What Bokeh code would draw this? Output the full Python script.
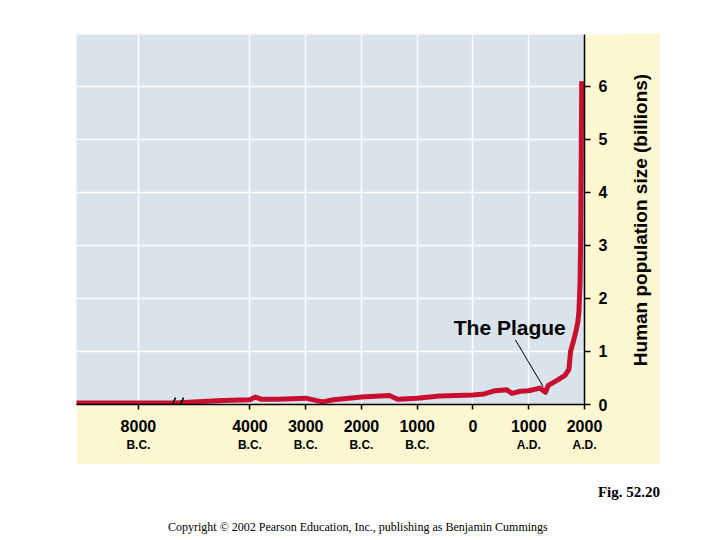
import math
from bokeh.plotting import figure
from bokeh.models import FixedTicker, LinearAxis, Range1d, Div, Spacer, Arrow
from bokeh.layouts import column, row
from bokeh.embed import file_html
from bokeh.resources import INLINE
from bokeh.core.properties import value

# ---- data ----
years = [-10300, -8000, -6700, -5000, -4000, -3900, -3800, -3500, -3000, -2700,
         -2500, -2000, -1500, -1350, -1000, -600, 0, 200, 400, 600,
         700, 850, 1000, 1200, 1300, 1350, 1500, 1650, 1720, 1750,
         1790, 1850, 1880, 1900, 1920, 1930, 1940, 1950]
population = [0.03, 0.03, 0.03, 0.075, 0.09, 0.14, 0.10, 0.10, 0.12, 0.05,
              0.09, 0.14, 0.17, 0.10, 0.12, 0.16, 0.18, 0.20, 0.26, 0.28,
              0.21, 0.25, 0.26, 0.31, 0.23, 0.36, 0.45, 0.55, 0.66, 1.0,
              1.15, 1.4, 1.55, 1.75, 2.3, 3.0, 4.5, 6.1]

tick_years = [-8000, -4000, -3000, -2000, -1000, 0, 1000, 2000]
tick_numbers = ["8000", "4000", "3000", "2000", "1000", "0", "1000", "2000"]
tick_eras = ["B.C.", "B.C.", "B.C.", "B.C.", "B.C.", "", "A.D.", "A.D."]
y_ticks = [0, 1, 2, 3, 4, 5, 6]
y_label = "Human population size (billions)"
plague_label = "The Plague"
plague_label_year, plague_label_value = 660, 1.45
plague_pointer = [(760, 1.22), (1258, 0.34)]
break_year = -6650
fig_caption = "Fig. 52.20"
copyright_text = "Copyright © 2002 Pearson Education, Inc., publishing as Benjamin Cummings"


def pos(y):
    # broken axis: years before 4000 B.C. are compressed
    return y if y >= -4000 else -4000 + (y + 4000) * 0.5


xs = [pos(y) for y in years]
tick_pos = [int(pos(y)) for y in tick_years]

FONT = "Liberation Sans"
CREAM = "#fdf7d2"

p = figure(width=544, height=430, x_range=Range1d(-7110, 2000), y_range=Range1d(0, 6.98),
           output_backend="svg", toolbar_location=None,
           x_axis_location="below", y_axis_location="right",
           min_border_left=0, min_border_top=0, min_border_right=36, min_border_bottom=60)
p.background_fill_color = "#d8e3eb"
p.border_fill_color = CREAM
p.outline_line_color = None

# grids
p.xgrid.ticker = FixedTicker(ticks=tick_pos)
p.ygrid.ticker = FixedTicker(ticks=y_ticks)
for g in (p.xgrid, p.ygrid):
    g.grid_line_color = "white"
    g.grid_line_width = 1.5

# bottom axis: numbers
xa = p.xaxis[0]
xa.ticker = FixedTicker(ticks=tick_pos)
xa.major_label_overrides = {tp: lab for tp, lab in zip(tick_pos, tick_numbers)}
xa.axis_line_color = "black"
xa.axis_line_width = 1.5
xa.major_tick_line_color = "black"
xa.major_tick_line_width = 1.5
xa.major_tick_out = 5
xa.major_tick_in = 0
xa.minor_tick_line_color = None
xa.major_label_standoff = 10
xa.major_label_text_font = FONT
xa.major_label_text_font_style = "bold"
xa.major_label_text_font_size = "16px"
xa.major_label_text_color = "black"

# second row of bottom labels: eras
xa2 = LinearAxis(ticker=FixedTicker(ticks=tick_pos),
                 major_label_overrides={tp: lab for tp, lab in zip(tick_pos, tick_eras)},
                 axis_line_color=None, major_tick_line_color=None, minor_tick_line_color=None,
                 major_tick_out=0, major_tick_in=0, major_label_standoff=3,
                 major_label_text_font=FONT, major_label_text_font_style="bold",
                 major_label_text_font_size="12px", major_label_text_color="black")
p.add_layout(xa2, "below")

# right axis
ya = p.yaxis[0]
ya.ticker = FixedTicker(ticks=y_ticks)
ya.axis_line_color = "black"
ya.axis_line_width = 1.5
ya.major_tick_line_color = "black"
ya.major_tick_line_width = 1.5
ya.major_tick_out = 6
ya.major_tick_in = 0
ya.minor_tick_line_color = None
ya.major_label_standoff = 8
ya.major_label_text_font = FONT
ya.major_label_text_font_style = "bold"
ya.major_label_text_font_size = "16px"
ya.major_label_text_color = "black"

# population curve
p.line(xs, population, line_color="#c8102e", line_width=5, line_join="round")

# plague annotation
p.text(x=[pos(plague_label_year)], y=[plague_label_value], text=[plague_label],
       text_font=value(FONT), text_font_style="bold", text_font_size="21px",
       text_align="center", text_baseline="middle", text_color="black")
(px0, py0), (px1, py1) = plague_pointer
p.segment(x0=[pos(px0)], y0=[py0], x1=[pos(px1)], y1=[py1], line_color="black", line_width=1)

# axis break marks
bx = pos(break_year)
for dx in (-72, 72):
    p.add_layout(Arrow(end=None, x_start=bx + dx - 62, y_start=-0.17,
                       x_end=bx + dx + 62, y_end=0.13, line_color="black", line_width=1.5))

# y-axis title (reads bottom-to-top) in a cream strip to the right of the figure
ylab = Div(
    text=('<div style="position:relative;width:40px;height:430px;background:' + CREAM + ';">'
          '<div style="position:absolute;left:20px;top:186px;transform:translate(-50%,-50%) rotate(-90deg);'
          'white-space:nowrap;font-family:\'Liberation Sans\';font-weight:bold;font-size:19px;'
          'line-height:1;color:black;">' + y_label + '</div></div>'),
    width=40, height=430, margin=0)

footer = Div(
    text=('<div style="position:relative;width:704px;height:68px;">'
          '<span style="position:absolute;right:44px;top:21px;font-family:\'Liberation Serif\';'
          'font-weight:bold;font-size:15px;line-height:1;white-space:nowrap;color:black;">'
          + fig_caption + '</span>'
          '<span style="position:absolute;left:168px;top:57px;font-family:\'Liberation Serif\';'
          'font-size:12px;line-height:1;white-space:nowrap;color:black;">'
          + copyright_text + '</span></div>'),
    width=704, height=68, margin=0)

layout = column(Spacer(width=712, height=34),
                row(Spacer(width=76, height=430), p, ylab),
                footer)

open("out.html", "w").write(file_html(layout, INLINE))
